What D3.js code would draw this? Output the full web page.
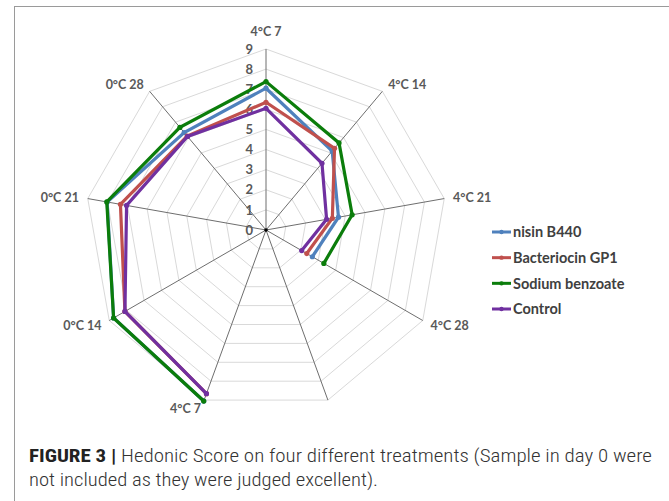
<!DOCTYPE html>
<html>
<head>
<meta charset="utf-8">
<script src="https://cdn.jsdelivr.net/npm/d3@7"></script>
<style>
  html, body { margin: 0; padding: 0; background: #fff; }
  svg { display: block; }
</style>
</head>
<body>
<svg id="chart" width="669" height="501"></svg>
<script>
// ---- data ----
const categories = ["4°C 7", "4°C 14", "4°C 21", "4°C 28", "", "4°C 7", "0°C 14", "0°C 21", "0°C 28"];
const tickValues = [0, 1, 2, 3, 4, 5, 6, 7, 8, 9];
const seriesNames = ["nisin B440", "Bacteriocin GP1", "Sodium benzoate", "Control"];
const nisinB440      = [7.05, 5.12, 3.66, 2.66, null, 9.05, 8.75, 8.02, 6.33];
const bacteriocinGP1 = [6.35, 5.30, 3.35, 2.34, null, 8.66, 8.10, 7.35, 6.10];
const sodiumBenzoate = [7.38, 5.65, 4.35, 3.32, null, 9.05, 8.75, 8.04, 6.66];
const control        = [6.05, 4.33, 3.06, 2.05, null, 8.66, 8.10, 7.04, 6.07];
const seriesValues = [nisinB440, bacteriocinGP1, sodiumBenzoate, control];
const seriesColors = ["#4f81bd", "#c0504d", "#0b7d0b", "#7030a0"];
const captionBold = "FIGURE 3 |";
const captionLine1 = " Hedonic Score on four different treatments (Sample in day 0 were";
const captionLine2 = "not included as they were judged excellent).";

// ---- layout ----
const svg = d3.select("#chart");
const cx = 266, cy = 230, R = 181;
const n = categories.length;
const angle = d3.scaleLinear().domain([0, n]).range([0, 2 * Math.PI]);
const radius = d3.scaleLinear().domain([0, 9]).range([0, R]);

// frame
svg.append("rect").attr("x", 14.5).attr("y", 6.5).attr("width", 680).attr("height", 520)
  .attr("fill", "none").attr("stroke", "#9a9a9a").attr("stroke-width", 1);

const g = svg.append("g").attr("transform", `translate(${cx},${cy})`);

// grid rings
tickValues.filter(t => t > 0).forEach(t => {
  const line = d3.lineRadial().curve(d3.curveLinearClosed)
    .angle(i => angle(i)).radius(() => radius(t));
  g.append("path").attr("d", line(d3.range(n)))
    .attr("fill", "none").attr("stroke", "#d9d9d9").attr("stroke-width", 1);
});

// spokes
d3.range(n).forEach(i => {
  const a = angle(i);
  g.append("line").attr("x1", 0).attr("y1", 0)
    .attr("x2", R * Math.sin(a)).attr("y2", -R * Math.cos(a))
    .attr("stroke", "#6e6e6e").attr("stroke-width", 1);
});
g.append("circle").attr("r", 1.8).attr("fill", "#000");

// tick labels
g.selectAll("text.tick").data(tickValues).join("text")
  .attr("class", "tick")
  .attr("x", -13).attr("y", d => -radius(d))
  .attr("dy", "0.36em").attr("text-anchor", "end")
  .attr("font-family", "Lato, 'Open Sans', sans-serif").attr("font-weight", "bold")
  .attr("font-size", 13).attr("fill", "#595959")
  .text(d => d);

// category labels
categories.forEach((c, i) => {
  if (!c) return;
  const a = angle(i), s = Math.sin(a), co = Math.cos(a);
  const rr = R + 9;
  const anchor = s > 0.2 ? "start" : (s < -0.2 ? "end" : "middle");
  let x = rr * s, y = -rr * co;
  if (anchor === "middle") y += (co > 0 ? -9 : 9);
  g.append("text").attr("x", x).attr("y", y).attr("dy", "0.36em")
    .attr("text-anchor", anchor)
    .attr("font-family", "Lato, 'Open Sans', sans-serif").attr("font-weight", "bold")
    .attr("font-size", 12.5).attr("fill", "#595959")
    .text(c);
});

// series lines (start after the blank category so the gap falls at the end)
const start = categories.indexOf("") + 1;
const order = d3.range(n).map(k => (start + k) % n);
const lineGen = d3.lineRadial()
  .defined(d => d.v != null)
  .angle(d => angle(d.i)).radius(d => radius(d.v));
seriesValues.forEach((vals, si) => {
  const pts = order.map(i => ({ i, v: vals[i] }));
  g.append("path").attr("d", lineGen(pts))
    .attr("fill", "none").attr("stroke", seriesColors[si])
    .attr("stroke-width", 3.2).attr("stroke-linejoin", "miter");
  g.selectAll(null).data(pts.filter(d => d.v != null)).join("circle")
    .attr("cx", d => radius(d.v) * Math.sin(angle(d.i)))
    .attr("cy", d => -radius(d.v) * Math.cos(angle(d.i)))
    .attr("r", 2.6).attr("fill", seriesColors[si]);
});

// legend
const legY = d3.scaleLinear().domain([0, 3]).range([232, 309]);
seriesNames.forEach((name, si) => {
  const y = legY(si);
  svg.append("line").attr("x1", 492).attr("x2", 511).attr("y1", y).attr("y2", y)
    .attr("stroke", seriesColors[si]).attr("stroke-width", 3);
  svg.append("circle").attr("cx", 501.5).attr("cy", y).attr("r", 2.2).attr("fill", seriesColors[si]);
  svg.append("text").attr("x", 513).attr("y", y).attr("dy", "0.36em")
    .attr("font-family", "Lato, 'Open Sans', sans-serif").attr("font-weight", "bold")
    .attr("font-size", 14.5).attr("fill", "#404040")
    .text(name);
});

// caption
const capFont = "'Roboto Condensed', Roboto, 'Liberation Sans', Arial, sans-serif";
const cap = svg.append("text").attr("x", 29).attr("y", 462)
  .attr("font-family", capFont).attr("font-size", 18).attr("fill", "#333")
  .attr("textLength", 623).attr("lengthAdjust", "spacingAndGlyphs");
cap.append("tspan").attr("font-weight", "bold").attr("fill", "#222").text(captionBold);
cap.append("tspan").attr("font-weight", 300).text(captionLine1);
svg.append("text").attr("x", 29).attr("y", 486)
  .attr("font-family", capFont).attr("font-size", 18).attr("font-weight", 300).attr("fill", "#333")
  .attr("textLength", 349).attr("lengthAdjust", "spacingAndGlyphs")
  .text(captionLine2);
</script>
</body>
</html>
